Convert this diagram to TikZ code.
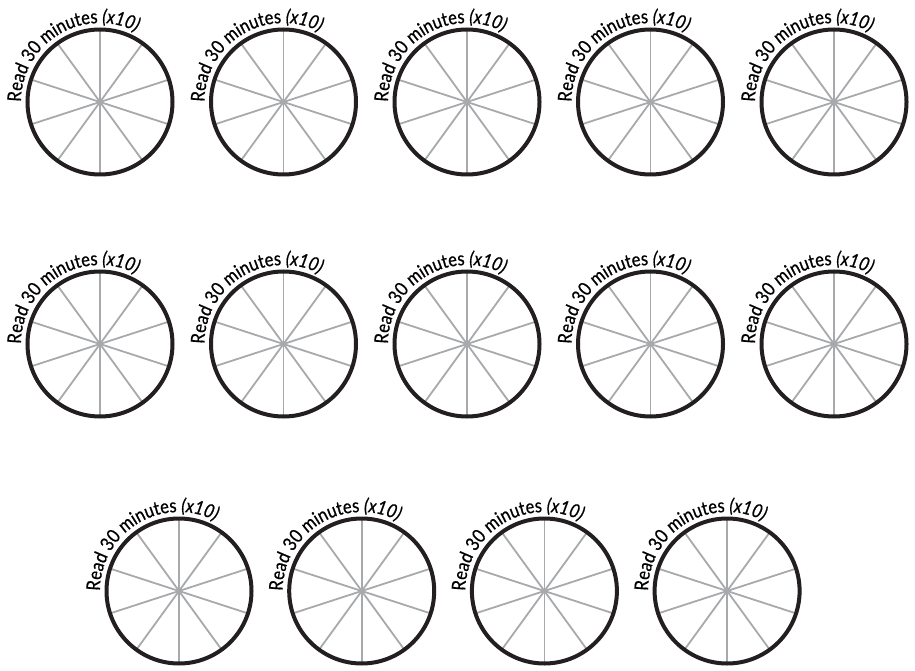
\documentclass[tikz,border=0pt]{standalone}
\usepackage{fontspec}
\setmainfont{Lato}
\newfontfamily\wheelfont{Lato}[FakeStretch=0.87, FakeBold=0.7]
\usetikzlibrary{decorations.text}
\definecolor{rimcol}{HTML}{231F20}
\definecolor{spokecol}{HTML}{A7A9AC}
\tikzset{
  rim/.style={draw=rimcol, line width=4pt},
  spoke/.style={draw=spokecol, line width=1.8pt},
  arclabel/.style={decorate, decoration={text along path, text align=left,
    text={|\wheelfont\fontsize{19}{19}\selectfont|Read 30 minutes |\wheelfont\fontsize{19}{19}\selectfont\itshape|(x10)}}}
}
\newcommand\readwheel[3]{%
  \coordinate (#1) at (#2,#3);
  \foreach \a in {90,54,18,-18,-54,-90,-126,-162,162,126}
    \draw[spoke] (#1) -- ++(\a:72);
  \draw[rim] (#1) circle[radius=72.5];
  \path[arclabel] (#2-79,#3) arc[start angle=180, end angle=0, radius=79];
}
\begin{document}
\begin{tikzpicture}[x=1pt,y=1pt]
\useasboundingbox (0,0) rectangle (915,670);
\foreach \i in {0,...,4} {
  \readwheel{a\i}{100+183.5*\i}{568}
  \readwheel{b\i}{100+183.5*\i}{326}
}
\foreach \i in {0,...,3} {
  \readwheel{c\i}{179+182.7*\i}{79}
}
\end{tikzpicture}
\end{document}
